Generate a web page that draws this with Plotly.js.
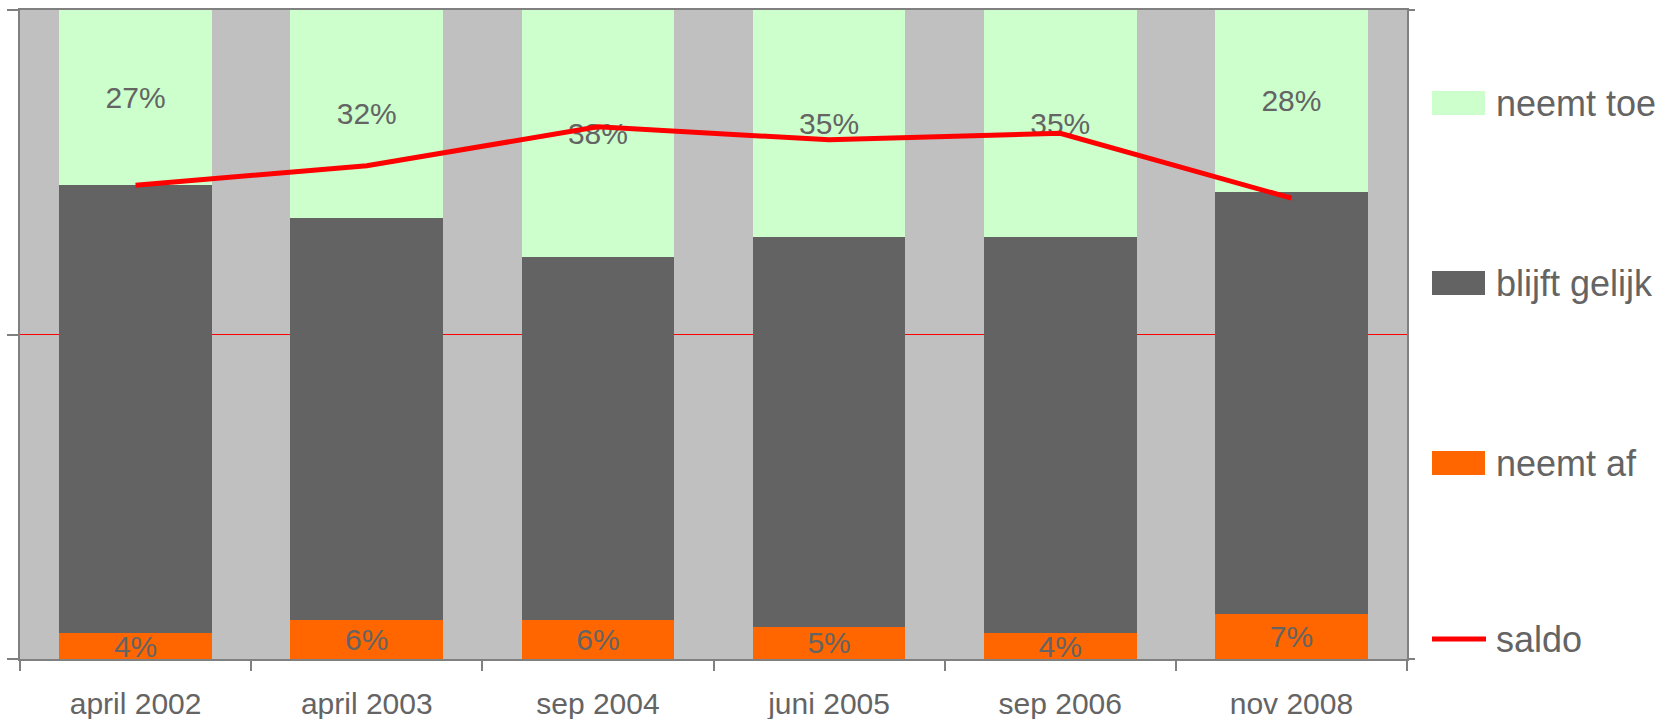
<!DOCTYPE html>
<html>
<head>
<meta charset="utf-8">
<script src="https://cdn.plot.ly/plotly-3.0.1.min.js"></script>
<style>html,body{margin:0;padding:0;background:#fff;}#chart{width:1676px;height:719px;}</style>
</head>
<body>
<div id="chart"></div>
<script>
var categories = ["april 2002", "april 2003", "sep 2004", "juni 2005", "sep 2006", "nov 2008"];
var neemtToe = [27, 32, 38, 35, 35, 28];
var blijftGelijk = [69, 62, 56, 60, 61, 65];
var neemtAf = [4, 6, 6, 5, 4, 7];
var saldo = [23, 26, 32, 30, 31, 21];
var seriesNames = ["neemt toe", "blijft gelijk", "neemt af", "saldo"];
var seriesColors = ["#ccffcc", "#636363", "#ff6600", "#ff0000"];

var FONT = "Liberation Sans, Arial, sans-serif";
var TXT = "#646464";

function pct(arr) { return arr.map(function (v) { return v + "%"; }); }

var labelStyle = {
  textposition: "inside",
  insidetextanchor: "middle",
  constraintext: "none",
  textangle: 0,
  textfont: { family: FONT, size: 30, color: TXT },
  hoverinfo: "skip",
  showlegend: false,
  marker: { line: { width: 0 } }
};

var traces = [
  Object.assign({ type: "bar", name: seriesNames[2], x: categories, y: neemtAf, text: pct(neemtAf) }, labelStyle, { marker: { color: seriesColors[2], line: { width: 0 } } }),
  Object.assign({ type: "bar", name: seriesNames[1], x: categories, y: blijftGelijk }, labelStyle, { text: null, marker: { color: seriesColors[1], line: { width: 0 } } }),
  Object.assign({ type: "bar", name: seriesNames[0], x: categories, y: neemtToe, text: pct(neemtToe) }, labelStyle, { marker: { color: seriesColors[0], line: { width: 0 } } }),
  { type: "scatter", mode: "lines", name: seriesNames[3], x: categories, y: saldo, yaxis: "y2",
    line: { color: seriesColors[3], width: 5 }, hoverinfo: "skip", showlegend: false }
];

// manual legend
var L = 20, R = 1407, T = 10, B = 659;
function px2x(p) { return (p - L) / (R - L); }
function px2y(p) { return (B - p) / (B - T); }
var legendY = [103, 283, 463, 639];
var shapes = [];
var annotations = [];
for (var i = 0; i < 4; i++) {
  var yc = px2y(legendY[i]);
  if (i < 3) {
    shapes.push({ type: "rect", xref: "paper", yref: "paper", x0: px2x(1432), x1: px2x(1485),
      y0: yc - 12 / (B - T), y1: yc + 12 / (B - T), fillcolor: seriesColors[i], line: { width: 0 } });
  } else {
    shapes.push({ type: "line", xref: "paper", yref: "paper", x0: px2x(1432), x1: px2x(1486),
      y0: yc, y1: yc, line: { color: seriesColors[i], width: 5 } });
  }
  annotations.push({ xref: "paper", yref: "paper", x: px2x(1494), y: yc, xanchor: "left", yanchor: "middle",
    text: seriesNames[i], showarrow: false, font: { family: FONT, size: 36, color: TXT } });
}

var layout = {
  width: 1676, height: 719,
  margin: { l: L, r: 1676 - R, t: T, b: 719 - B, pad: 0 },
  paper_bgcolor: "#ffffff",
  plot_bgcolor: "#c0c0c0",
  barmode: "stack",
  bargap: 0.34,
  showlegend: false,
  font: { family: FONT, color: TXT },
  xaxis: {
    type: "category",
    tickson: "boundaries",
    ticks: "outside", ticklen: 10, tickwidth: 2, tickcolor: "#808080",
    showline: true, linecolor: "#808080", linewidth: 2, mirror: true,
    showgrid: false, zeroline: false,
    tickfont: { family: FONT, size: 30, color: TXT },
    ticklabelstandoff: 17
  },
  yaxis: {
    range: [0, 100], tickvals: [0, 50, 100], showticklabels: false,
    ticks: "outside", ticklen: 11, tickwidth: 2, tickcolor: "#808080",
    showline: true, linecolor: "#808080", linewidth: 2,
    showgrid: false, zeroline: false, fixedrange: true
  },
  yaxis2: {
    overlaying: "y", side: "right",
    range: [-50, 50], tickvals: [-50, 50], showticklabels: false,
    ticks: "outside", ticklen: 6, tickwidth: 2, tickcolor: "#808080",
    showline: true, linecolor: "#808080", linewidth: 2,
    showgrid: false, zeroline: true, zerolinecolor: "#ff0000", zerolinewidth: 1.5
  },
  shapes: shapes,
  annotations: annotations
};

Plotly.newPlot("chart", traces, layout, { displayModeBar: false, staticPlot: true });
</script>
</body>
</html>
